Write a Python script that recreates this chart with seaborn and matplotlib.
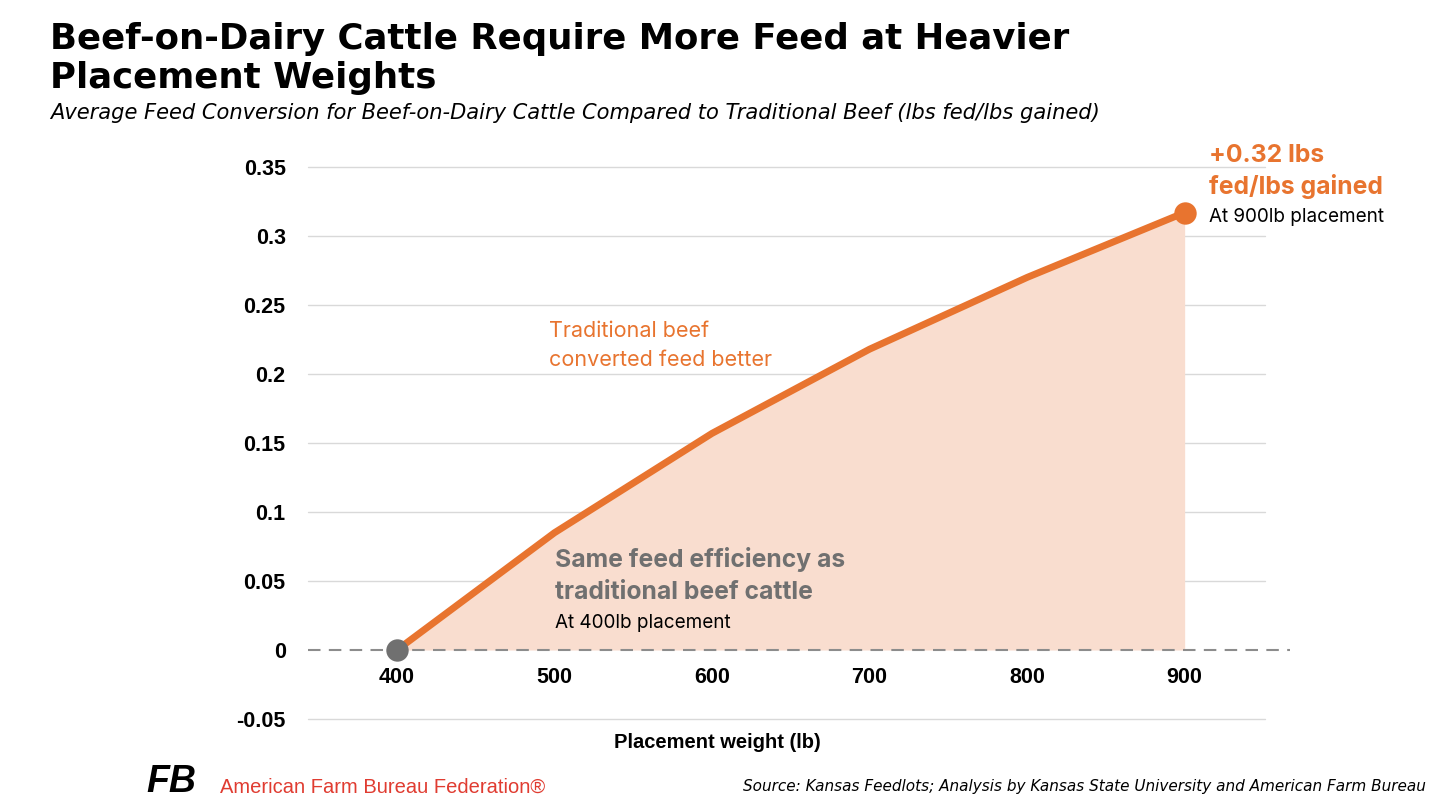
import matplotlib
matplotlib.use("Agg")
import matplotlib.pyplot as plt
import pandas as pd
import seaborn as sns

# data
weights = [400, 500, 600, 700, 800, 900]
feed_diff = [0.0, 0.085, 0.157, 0.218, 0.270, 0.317]
y_ticks = [-0.05, 0, 0.05, 0.1, 0.15, 0.2, 0.25, 0.3, 0.35]
y_tick_labels = ["-0.05", "0", "0.05", "0.1", "0.15", "0.2", "0.25", "0.3", "0.35"]

ORANGE = "#E8742F"
FILL = "#F9DDCF"
GREY = "#707070"

df = pd.DataFrame({"weight": weights, "diff": feed_diff})

sns.set_theme(style="white")
plt.rcParams["font.family"] = ["DejaVu Sans"]
plt.rcParams["text.color"] = "black"
plt.rcParams["xtick.color"] = "black"
plt.rcParams["ytick.color"] = "black"

fig = plt.figure(figsize=(14.37, 8.08), dpi=100)
ax = fig.add_axes([0.2143, 0.1101, 0.6660, 0.6832])

ax.fill_between(df["weight"], 0, df["diff"], color=FILL, linewidth=0, zorder=1)
sns.lineplot(data=df, x="weight", y="diff", ax=ax, color=ORANGE, linewidth=5,
             zorder=3, solid_capstyle="butt")
ax.scatter([weights[0]], [feed_diff[0]], s=260, color=GREY, zorder=5, linewidths=0)
ax.scatter([weights[-1]], [feed_diff[-1]], s=260, color=ORANGE, zorder=5,
           linewidths=0, clip_on=False)

# grid + dashed zero line
for t in y_ticks:
    if t != 0:
        ax.axhline(t, color="#D9D9D9", linewidth=1, zorder=0, clip_on=False)
ax.axhline(0, xmin=0, xmax=1.026, color="#8C8C8C", linewidth=1.5,
           linestyle=(0, (6, 4)), zorder=2, clip_on=False)

ax.set_xlim(343.5, 951)
ax.set_ylim(-0.05, 0.35)
ax.set_yticks(y_ticks)
ax.set_yticklabels(y_tick_labels)
ax.set_xticks(weights)
ax.set_xticklabels([str(w) for w in weights])
for s in ["top", "right", "left"]:
    ax.spines[s].set_visible(False)
ax.spines["bottom"].set_position(("data", 0))
ax.spines["bottom"].set_visible(False)
ax.tick_params(axis="both", length=0)
ax.tick_params(axis="y", pad=16)
ax.tick_params(axis="x", pad=12)
for lab in ax.get_xticklabels() + ax.get_yticklabels():
    lab.set_fontfamily("Liberation Sans")
    lab.set_fontweight("bold")
    lab.set_fontsize(15.5)
ax.set_xlabel("")
ax.set_ylabel("")

# titles
fig.text(0.035, 0.973, "Beef-on-Dairy Cattle Require More Feed at Heavier\nPlacement Weights",
         fontsize=25.6, fontweight="bold", va="top", ha="left", linespacing=1.2)
fig.text(0.035, 0.86,
         "Average Feed Conversion for Beef-on-Dairy Cattle Compared to Traditional Beef (lbs fed/lbs gained)",
         fontsize=15.1, style="italic", va="center", ha="left")

# annotations
ax.text(0.252, 0.721, "Traditional beef\nconverted feed better", transform=ax.transAxes,
        color=ORANGE, fontsize=15.5, family="Inter", va="top", ha="left", linespacing=1.55)
ax.text(0.258, 0.312, "Same feed efficiency as\ntraditional beef cattle", transform=ax.transAxes,
        color=GREY, fontsize=17.8, fontweight="bold", family="Inter", va="top", ha="left",
        linespacing=1.5)
ax.text(0.258, 0.19, "At 400lb placement", transform=ax.transAxes,
        color="black", fontsize=13.6, family="Inter", va="top", ha="left")
ax.text(0.941, 1.041, "+0.32 lbs\nfed/lbs gained", transform=ax.transAxes,
        color=ORANGE, fontsize=17.8, fontweight="bold", family="Inter", va="top", ha="left",
        linespacing=1.35, clip_on=False)
ax.text(0.941, 0.926, "At 900lb placement", transform=ax.transAxes,
        color="black", fontsize=13.6, family="Inter", va="top", ha="left", clip_on=False)

fig.text(0.499, 0.081, "Placement weight (lb)", fontsize=14.5, fontweight="bold",
         family="Liberation Sans", ha="center", va="center")

# footer
fig.text(0.102, 0.032, "FB", fontsize=27, fontweight="bold", style="italic",
         family="Liberation Sans", color="black", ha="left", va="center")
fig.text(0.153, 0.026, "American Farm Bureau Federation\u00ae", fontsize=14.5,
         family="Liberation Sans", color="#E03C31", ha="left", va="center")
fig.text(0.992, 0.026,
         "Source: Kansas Feedlots; Analysis by Kansas State University and American Farm Bureau",
         fontsize=11, style="italic", ha="right", va="center")

fig.savefig("out.png", dpi=100, facecolor="white")
